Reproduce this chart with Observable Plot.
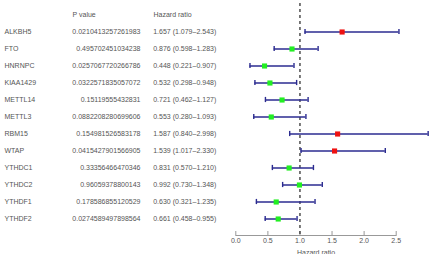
<!DOCTYPE html>
<html>
<head>
<meta charset="utf-8">
<script src="https://cdn.jsdelivr.net/npm/d3@7"></script>
<script src="https://cdn.jsdelivr.net/npm/@observablehq/plot@0.6"></script>
<style>
  html, body { margin: 0; padding: 0; background: #fff; }
  svg { display: block; }
</style>
</head>
<body>
<div id="chart"></div>
<script>
const genes = ["ALKBH5","FTO","HNRNPC","KIAA1429","METTL14","METTL3","RBM15","WTAP","YTHDC1","YTHDC2","YTHDF1","YTHDF2"];
const pvals = ["0.0210413257261983","0.495702451034238","0.0257067720266786","0.0322571835057072","0.15119555432831","0.0882208280699606","0.154981526583178","0.0415427901566905","0.33356466470346","0.96059378800143","0.178586855120529","0.0274589497898564"];
const hr = [1.657, 0.876, 0.448, 0.532, 0.721, 0.553, 1.587, 1.539, 0.831, 0.992, 0.630, 0.661];
const lo = [1.079, 0.598, 0.221, 0.298, 0.462, 0.280, 0.840, 1.017, 0.570, 0.730, 0.321, 0.458];
const hi = [2.543, 1.283, 0.907, 0.948, 1.127, 1.093, 2.998, 2.330, 1.210, 1.348, 1.235, 0.955];
const xTicks = [0, 0.5, 1.0, 1.5, 2.0, 2.5];
const headers = ["P value", "Hazard ratio"];

const HEAD = "__header";
const rows = genes.map((g, i) => ({
  gene: g, p: pvals[i], hr: hr[i], lo: lo[i], hi: hi[i],
  label: `${hr[i].toFixed(3)} (${lo[i].toFixed(3)}\u2013${hi[i].toFixed(3)})`
}));

const W = 432, H = 254;
const mLeft = 235.3, mRight = 36.3, mTop = 3, mBottom = 19;
const textColor = "#555";
const fs = 7;

const chart = Plot.plot({
  width: W, height: H,
  marginLeft: mLeft, marginRight: mRight, marginTop: mTop, marginBottom: mBottom,
  style: {fontFamily: "'Liberation Sans', Arial, sans-serif", fontSize: fs + "px", color: textColor, background: "#fff"},
  x: {domain: [0, 2.5], ticks: xTicks},
  y: {type: "band", domain: [HEAD, ...genes], range: [1.1, 232.6], padding: 0, axis: null},
  marks: [
    Plot.frame({anchor: "bottom", stroke: "#999", strokeWidth: 1}),
    Plot.ruleX(xTicks, {stroke: "#999", strokeWidth: 1, insetTop: 228}),
    Plot.axisX({ticks: xTicks, tickSize: 0, tickPadding: 3, tickFormat: ".1f", fill: textColor, fontSize: fs,
      label: "Hazard ratio", labelAnchor: "center", labelArrow: "none", labelOffset: 19}),
    Plot.ruleX([1], {stroke: "#333", strokeWidth: 1.3, strokeDasharray: "3,3"}),
    Plot.ruleY(rows, {y: "gene", x1: "lo", x2: "hi", stroke: "#2b2b90", strokeWidth: 1.4}),
    Plot.tickX(rows, {y: "gene", x: "lo", stroke: "#2b2b90", strokeWidth: 1.4, insetTop: 5.9, insetBottom: 5.9}),
    Plot.tickX(rows, {y: "gene", x: "hi", stroke: "#2b2b90", strokeWidth: 1.4, insetTop: 5.9, insetBottom: 5.9}),
    Plot.dot(rows, {y: "gene", x: "hr", symbol: "square", r: 2.9, stroke: null,
      fill: d => d.hr > 1 ? "#ee1111" : "#22ee22"}),
    // table columns
    Plot.text(rows, {y: "gene", text: "gene", frameAnchor: "left", dx: 4 - mLeft, textAnchor: "start", fill: textColor, fontSize: fs}),
    Plot.text(rows, {y: "gene", text: "p", frameAnchor: "left", dx: 140 - mLeft, textAnchor: "end", fill: textColor, fontSize: fs}),
    Plot.text(rows, {y: "gene", text: "label", frameAnchor: "left", dx: 152.7 - mLeft, textAnchor: "start", fill: textColor, fontSize: fs}),
    Plot.text([headers[0]], {y: () => HEAD, text: d => d, frameAnchor: "left", dx: 72 - mLeft, textAnchor: "start", fill: textColor, fontSize: fs}),
    Plot.text([headers[1]], {y: () => HEAD, text: d => d, frameAnchor: "left", dx: 153 - mLeft, textAnchor: "start", fill: textColor, fontSize: fs})
  ]
});
document.getElementById("chart").appendChild(chart);
</script>
</body>
</html>
